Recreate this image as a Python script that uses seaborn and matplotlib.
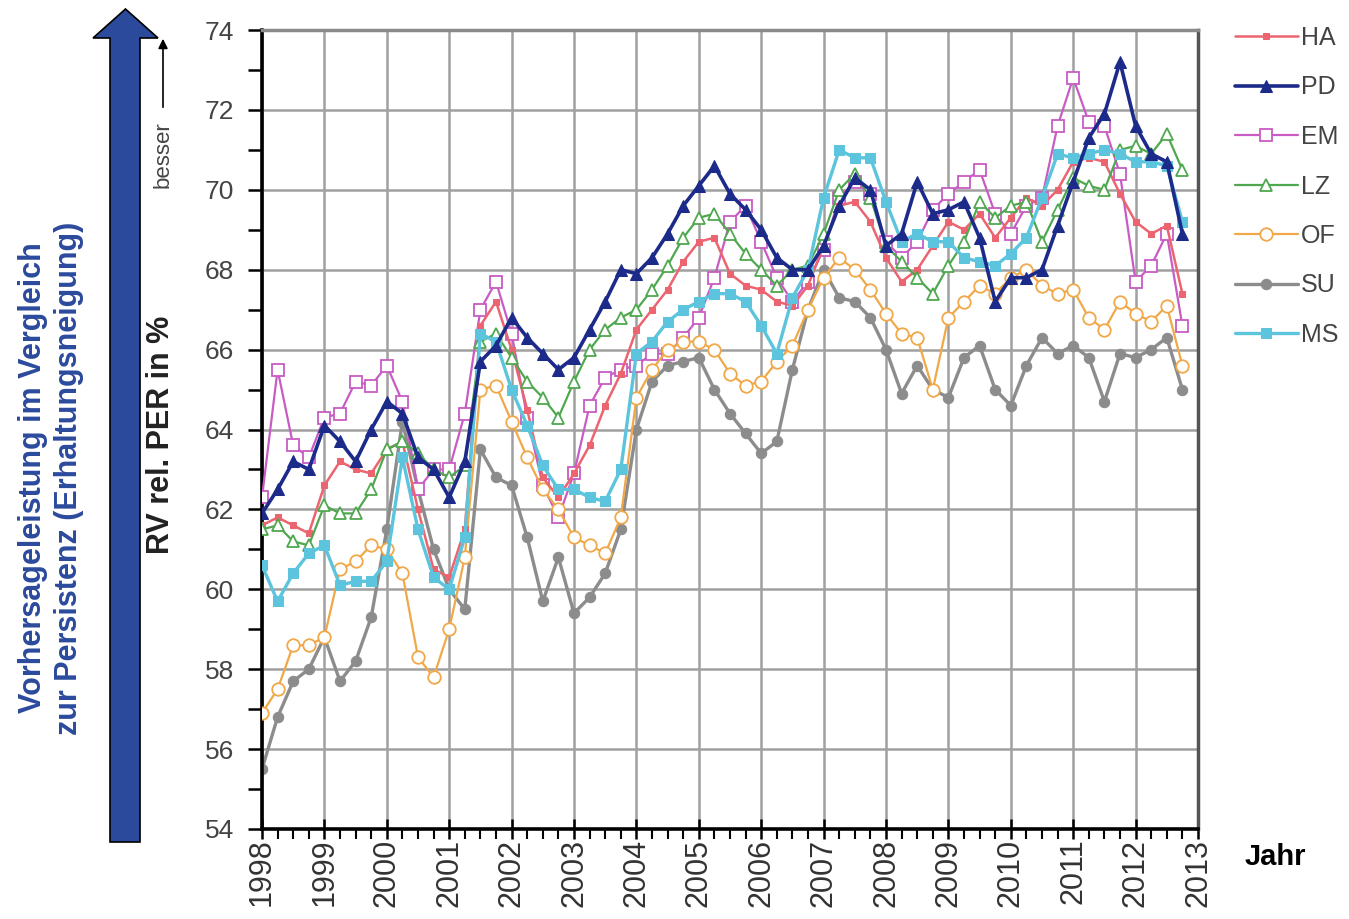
import matplotlib
matplotlib.use("Agg")
import matplotlib.pyplot as plt
import numpy as np
import seaborn as sns
from matplotlib.patches import Polygon
from matplotlib.ticker import FormatStrFormatter, MultipleLocator

# quarterly time axis 1998.00 ... 2012.75
quarters = np.arange(1998, 2013, 0.25)

ha = [61.6, 61.8, 61.6, 61.4, 62.6, 63.2, 63.0, 62.9, 63.5, 63.7,
      62.0, 60.5, 60.3, 61.5, 66.6, 67.2, 66.0, 64.5, 62.8, 62.3,
      62.9, 63.6, 64.6, 65.4, 66.5, 67.0, 67.5, 68.2, 68.7, 68.8,
      67.9, 67.6, 67.5, 67.2, 67.1, 67.6, 68.6, 69.6, 69.7, 69.2,
      68.3, 67.7, 68.0, 68.6, 69.2, 69.0, 69.4, 68.8, 69.3, 69.8,
      69.6, 70.0, 70.7, 70.8, 70.7, 69.9, 69.2, 68.9, 69.1, 67.4]
pd_ = [61.9, 62.5, 63.2, 63.0, 64.1, 63.7, 63.2, 64.0, 64.7, 64.4,
       63.3, 63.0, 62.3, 63.2, 65.7, 66.1, 66.8, 66.3, 65.9, 65.5,
       65.8, 66.5, 67.2, 68.0, 67.9, 68.3, 68.9, 69.6, 70.1, 70.6,
       69.9, 69.5, 69.0, 68.3, 68.0, 68.0, 68.6, 69.6, 70.3, 70.0,
       68.6, 68.9, 70.2, 69.4, 69.5, 69.7, 68.8, 67.2, 67.8, 67.8,
       68.0, 69.1, 70.2, 71.3, 71.9, 73.2, 71.6, 70.9, 70.7, 68.9]
em = [62.3, 65.5, 63.6, 63.3, 64.3, 64.4, 65.2, 65.1, 65.6, 64.7,
      62.5, 63.0, 63.0, 64.4, 67.0, 67.7, 66.4, 64.3, 62.6, 61.8,
      62.9, 64.6, 65.3, 65.5, 65.6, 65.9, 65.9, 66.3, 66.8, 67.8,
      69.2, 69.6, 68.7, 67.8, 67.2, 67.7, 68.5, 69.8, 70.2, 69.9,
      68.7, 68.3, 68.7, 69.5, 69.9, 70.2, 70.5, 69.4, 68.9, 69.6,
      69.8, 71.6, 72.8, 71.7, 71.6, 70.4, 67.7, 68.1, 68.9, 66.6]
lz = [61.5, 61.6, 61.2, 61.1, 62.1, 61.9, 61.9, 62.5, 63.5, 63.7,
      63.4, 63.0, 62.8, 63.1, 66.2, 66.4, 65.8, 65.2, 64.8, 64.3,
      65.2, 66.0, 66.5, 66.8, 67.0, 67.5, 68.1, 68.8, 69.3, 69.4,
      68.9, 68.4, 68.0, 67.6, 68.0, 68.1, 68.9, 70.0, 70.4, 69.8,
      68.6, 68.2, 67.8, 67.4, 68.1, 68.7, 69.7, 69.3, 69.6, 69.7,
      68.7, 69.5, 70.3, 70.1, 70.0, 71.0, 71.1, 70.9, 71.4, 70.5]
of = [56.9, 57.5, 58.6, 58.6, 58.8, 60.5, 60.7, 61.1, 61.0, 60.4,
      58.3, 57.8, 59.0, 60.8, 65.0, 65.1, 64.2, 63.3, 62.5, 62.0,
      61.3, 61.1, 60.9, 61.8, 64.8, 65.5, 66.0, 66.2, 66.2, 66.0,
      65.4, 65.1, 65.2, 65.7, 66.1, 67.0, 67.8, 68.3, 68.0, 67.5,
      66.9, 66.4, 66.3, 65.0, 66.8, 67.2, 67.6, 67.4, 67.8, 68.0,
      67.6, 67.4, 67.5, 66.8, 66.5, 67.2, 66.9, 66.7, 67.1, 65.6]
su = [55.5, 56.8, 57.7, 58.0, 58.8, 57.7, 58.2, 59.3, 61.5, 64.2,
      62.5, 61.0, 60.0, 59.5, 63.5, 62.8, 62.6, 61.3, 59.7, 60.8,
      59.4, 59.8, 60.4, 61.5, 64.0, 65.2, 65.6, 65.7, 65.8, 65.0,
      64.4, 63.9, 63.4, 63.7, 65.5, 67.0, 68.0, 67.3, 67.2, 66.8,
      66.0, 64.9, 65.6, 65.0, 64.8, 65.8, 66.1, 65.0, 64.6, 65.6,
      66.3, 65.9, 66.1, 65.8, 64.7, 65.9, 65.8, 66.0, 66.3, 65.0]
ms = [60.6, 59.7, 60.4, 60.9, 61.1, 60.1, 60.2, 60.2, 60.7, 63.3,
      61.5, 60.3, 60.0, 61.3, 66.4, 66.2, 65.0, 64.1, 63.1, 62.5,
      62.5, 62.3, 62.2, 63.0, 65.9, 66.2, 66.7, 67.0, 67.2, 67.4,
      67.4, 67.2, 66.6, 65.9, 67.3, 68.0, 69.8, 71.0, 70.8, 70.8,
      69.7, 68.7, 68.9, 68.7, 68.7, 68.3, 68.2, 68.1, 68.4, 68.8,
      69.8, 70.9, 70.8, 70.9, 71.0, 70.9, 70.7, 70.7, 70.6, 69.2]

series = [
    ("HA", ha, dict(color="#ec6470", marker="s", markersize=4.5, markerfacecolor="#ec6470",
                    markeredgecolor="#ec6470", linewidth=1.8, zorder=4)),
    ("PD", pd_, dict(color="#1c2a8a", marker="^", markersize=8, markerfacecolor="#1c2a8a",
                     markeredgecolor="#1c2a8a", linewidth=2.6, zorder=7)),
    ("EM", em, dict(color="#c85cc4", marker="s", markersize=9, markerfacecolor="white",
                    markeredgecolor="#c85cc4", markeredgewidth=1.3, linewidth=1.6, zorder=3)),
    ("LZ", lz, dict(color="#4fa84f", marker="^", markersize=9, markerfacecolor="white",
                    markeredgecolor="#4fa84f", markeredgewidth=1.3, linewidth=1.6, zorder=5)),
    ("OF", of, dict(color="#f0a848", marker="o", markersize=9, markerfacecolor="white",
                    markeredgecolor="#f0a848", markeredgewidth=1.3, linewidth=1.6, zorder=3)),
    ("SU", su, dict(color="#8c8c8c", marker="o", markersize=7.5, markerfacecolor="#8c8c8c",
                    markeredgecolor="#8c8c8c", linewidth=2.4, zorder=2)),
    ("MS", ms, dict(color="#5cc4dc", marker="s", markersize=6.5, markerfacecolor="#5cc4dc",
                    markeredgecolor="#5cc4dc", linewidth=2.4, zorder=6)),
]

sns.set_theme(style="white")
plt.rcParams["font.family"] = ["Liberation Sans", "DejaVu Sans"]

W, H = 1349, 919
fig = plt.figure(figsize=(W / 100, H / 100), dpi=100)
ax = fig.add_axes([262 / W, 1 - 829 / H, 936 / W, 799 / H])

for name, vals, style in series:
    sns.lineplot(x=quarters, y=vals, ax=ax, label=name, **style)

ax.set_xlim(1998, 2013)
ax.set_ylim(54, 74)
ax.xaxis.set_major_locator(MultipleLocator(1))
ax.xaxis.set_minor_locator(MultipleLocator(0.25))
ax.yaxis.set_major_locator(MultipleLocator(2))
ax.yaxis.set_minor_locator(MultipleLocator(1))
ax.xaxis.set_major_formatter(FormatStrFormatter("%d"))

ax.grid(True, which="major", color="#a0a0a0", linewidth=1.8)
ax.set_axisbelow(True)

ax.tick_params(axis="x", which="major", bottom=True, direction="inout", length=14, width=1.8,
               color="black", labelsize=22, labelcolor="#333333", labelrotation=90, pad=0)
ax.tick_params(axis="x", which="minor", bottom=True, direction="out", length=7, width=1.5,
               color="black")
ax.tick_params(axis="y", which="both", left=True, direction="out", length=10, width=1.8,
               color="black", labelsize=19, labelcolor="#444444", pad=10)

for side in ["left", "bottom"]:
    ax.spines[side].set_color("black")
    ax.spines[side].set_linewidth(2.6)
ax.spines["top"].set_color("#8a8a8a")
ax.spines["top"].set_linewidth(2.5)
ax.spines["right"].set_color("#555555")
ax.spines["right"].set_linewidth(2.5)

ax.set_xlabel("")
ax.set_ylabel("")

leg = ax.legend(loc="upper left", bbox_to_anchor=(1235 / W, 1 - 26 / H),
                bbox_transform=fig.transFigure, frameon=False, fontsize=18,
                labelspacing=1.02, handlelength=2.5, handletextpad=0.15,
                borderaxespad=0, borderpad=0)
for t in leg.get_texts():
    t.set_color("#444444")

# overlay in pixel coordinates for the annotations outside the plot
ov = fig.add_axes([0, 0, 1, 1], facecolor="none")
ov.set_xlim(0, W)
ov.set_ylim(H, 0)
ov.axis("off")

arrow = Polygon([(110, 842), (140, 842), (140, 38), (158, 38), (125.5, 9),
                 (93, 38), (110, 38)], closed=True, facecolor="#2c4a9c",
                edgecolor="black", linewidth=1.2)
ov.add_patch(arrow)

ov.text(51, 478, "Vorhersageleistung im Vergleich\nzur Persistenz (Erhaltungsneigung)",
        rotation=90, ha="center", va="center", multialignment="center",
        fontsize=22, fontweight="bold", color="#2c4a9c", linespacing=1.3)

ov.text(161, 435, "RV rel. PER in %", rotation=90, ha="center", va="center",
        fontsize=22, fontweight="bold", color="#222222")

ov.annotate("", xy=(163, 36), xytext=(163, 110),
            arrowprops=dict(arrowstyle="-|>", color="black", lw=1.2, mutation_scale=14))
ov.text(163, 155, "besser", rotation=90, ha="center", va="center", fontsize=16,
        color="#444444")

ov.text(1275, 857, "Jahr", ha="center", va="center", fontsize=21, fontweight="bold",
        color="black")

fig.savefig("out.png", dpi=100)
